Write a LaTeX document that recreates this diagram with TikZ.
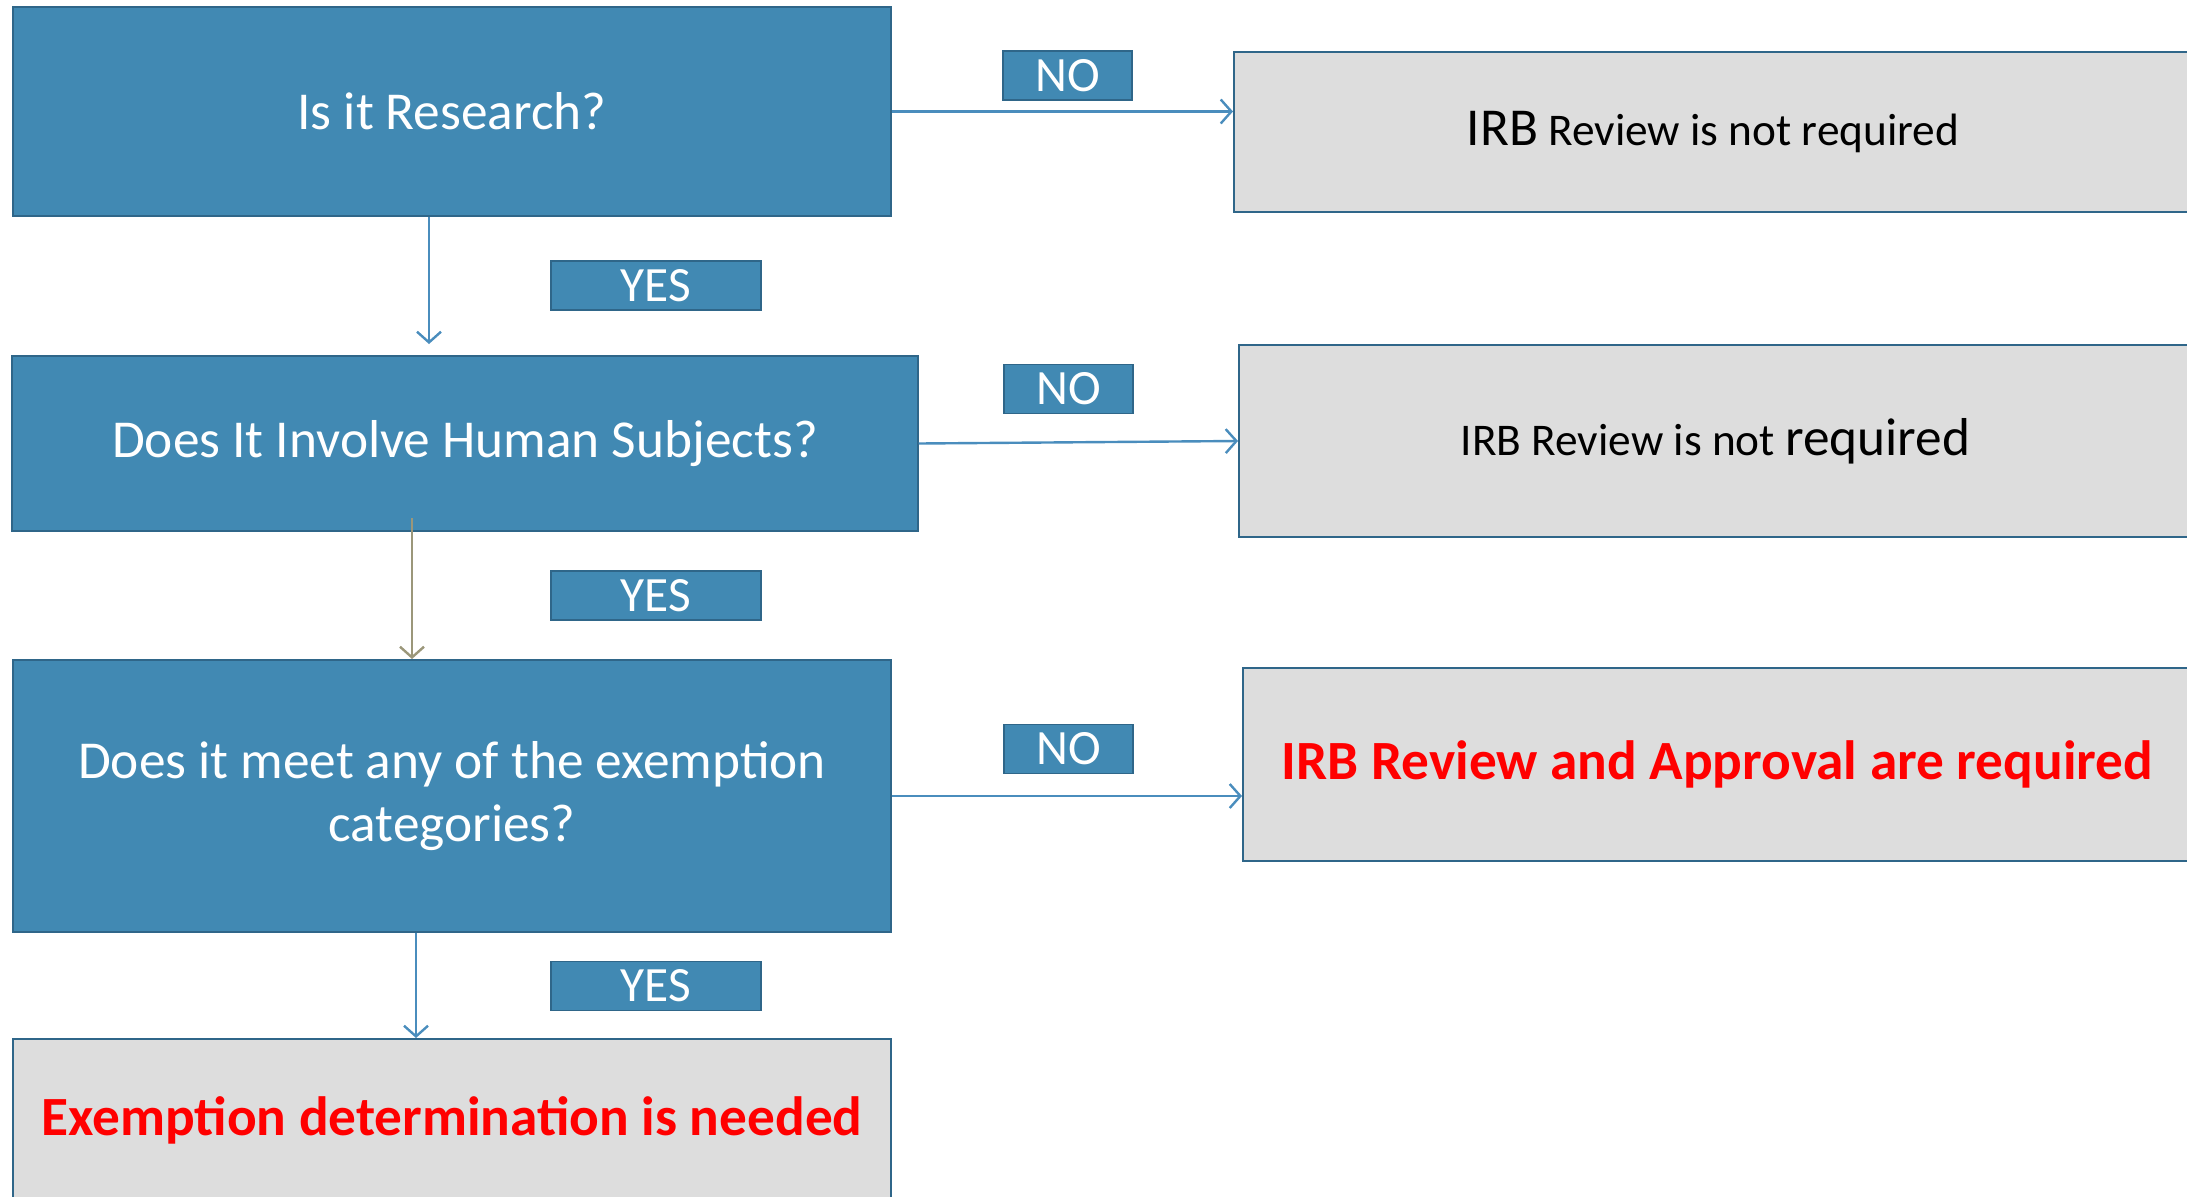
\documentclass[tikz,border=0pt]{standalone}
\usepackage{fontspec}
\setmainfont{Carlito}
\usetikzlibrary{arrows.meta,calc}
\definecolor{qblue}{RGB}{65,137,179}
\definecolor{qedge}{RGB}{47,102,137}
\definecolor{qgray}{RGB}{221,221,221}
\definecolor{qline}{RGB}{74,141,189}
\definecolor{qolive}{RGB}{155,151,122}
\definecolor{qred}{RGB}{255,0,0}

\begin{document}
\begin{tikzpicture}[x=0.75pt,y=0.75pt,yscale=-1,
  question/.style={draw=qedge,fill=qblue,line width=1.5pt,text=white,
    font=\fontsize{40}{47}\selectfont,align=center,inner sep=0pt},
  answer/.style={draw=qedge,fill=qgray,line width=1.5pt,align=center,inner sep=0pt,
    font=\fontsize{34}{40}\selectfont},
  tag/.style={draw=qedge,fill=qblue,line width=1.2pt,text=white,
    font=\fontsize{37}{40}\selectfont,inner sep=0pt,minimum height=36.75pt},
  flow/.style={draw=qline,line width=1.8pt,-{Straight Barb[length=8pt,width=18pt]}},
  alert/.style={text=qred,font=\fontsize{41.5}{48}\selectfont\bfseries}]
\useasboundingbox (0,0) rectangle (2187,1196);
\clip (0,0) rectangle (2187,1196);

% Questions
\node [question,minimum width=658.9pt,minimum height=156.75pt] (research) at (452,111.5) {Is it Research?};
\node [question,minimum width=679.1pt,minimum height=131.25pt] (human) at (465,443.5) {Does It Involve Human Subjects?};
\node [question,minimum width=658.9pt,minimum height=204pt] (exempt) at (452,796) {Does it meet any of the exemption\\categories?};

% Outcomes
\node [answer,minimum width=658.9pt,minimum height=121.5pt,alert] (needed) at (452,1120) {Exemption determination is needed};
\node [answer,minimum width=718.5pt,minimum height=120pt] (notreq) at (1713,132)
  {{\fontsize{40}{47}\selectfont IRB} Review is not required};
\node [answer,minimum width=714.75pt,minimum height=144pt] (notreqb) at (1715.5,441)
  {IRB Review is not {\fontsize{40}{47}\selectfont required}};
\node [answer,minimum width=711.75pt,minimum height=144.75pt,alert] (approval) at (1717.5,764.5) {IRB Review and Approval are required};

% Text Node
\node [tag,minimum width=96.75pt] (no1) at (1067.5,75.5) {NO};
\node [tag,minimum width=96.75pt] (no2) at (1068.5,389) {NO};
\node [tag,minimum width=96.75pt] (no3) at (1068.5,749) {NO};
\node [tag,minimum width=157.5pt] (yes1) at (656,285.5) {YES};
\node [tag,minimum width=157.5pt] (yes2) at (656,595.5) {YES};
\node [tag,minimum width=157.5pt] (yes3) at (656,986) {YES};

% Connectors
\draw [flow] (research.east) -- (research.east -| notreq.west);
\draw [flow] (research.south -| 429,0) -- ($(human.north -| 429,0)+(0,-11)$);
\draw [flow] (human.east) -- (notreqb.west);
\draw [flow,draw=qolive] ($(human.south -| 412,0)+(0,-14)$) -- (exempt.north -| 412,0);
\draw [flow] (exempt.east) -- (exempt.east -| approval.west);
\draw [flow] (exempt.south -| 416,0) -- (needed.north -| 416,0);

\end{tikzpicture}
\end{document}
